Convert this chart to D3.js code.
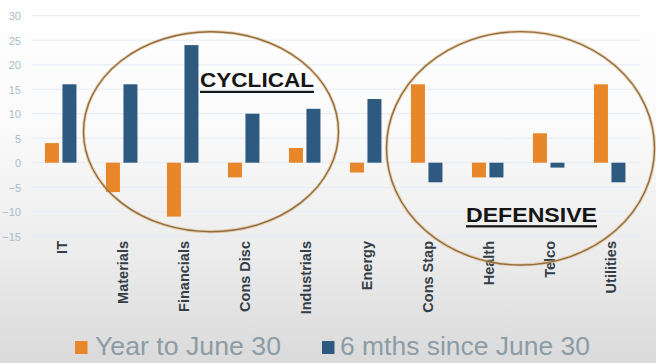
<!DOCTYPE html>
<html>
<head>
<meta charset="utf-8">
<script src="https://cdn.jsdelivr.net/npm/d3@7"></script>
<style>
html,body{margin:0;padding:0;background:#fff;}
svg{display:block;}
</style>
</head>
<body>
<svg id="chart" width="656" height="363"></svg>
<script>
const categories = ["IT","Materials","Financials","Cons Disc","Industrials","Energy","Cons Stap","Health","Telco","Utilities"];
const seriesNames = ["Year to June 30","6 mths since June 30"];
const yearToJune = [4,-6,-11,-3,3,-2,16,-3,6,16];
const sinceJune = [16,16,24,10,11,13,-4,-3,-1,-4];
const yTicks = [-15,-10,-5,0,5,10,15,20,25,30];
const groupLabels = ["CYCLICAL","DEFENSIVE"];
const colors = ["#e8862a","#2f5a80"];

const W = 656, H = 363;
const svg = d3.select("#chart");

// background gradient
const defs = svg.append("defs");
const grad = defs.append("linearGradient").attr("id","bg").attr("x1",0).attr("y1",0).attr("x2",0).attr("y2",1);
grad.append("stop").attr("offset","0%").attr("stop-color","#ffffff");
grad.append("stop").attr("offset","35%").attr("stop-color","#fafafa");
grad.append("stop").attr("offset","70%").attr("stop-color","#ececec");
grad.append("stop").attr("offset","100%").attr("stop-color","#dadada");
svg.append("rect").attr("width",W).attr("height",H).attr("fill","url(#bg)");

const x0 = d3.scaleBand().domain(categories).range([31, 641]).paddingInner(0).paddingOuter(0);
const x1 = d3.scaleBand().domain(seriesNames).range([0, 31.5]).paddingInner(0.2);
const y = d3.scaleLinear().domain([-15, 30]).range([236.2, 15.7]);

// gridlines
svg.append("g").selectAll("line").data(yTicks).join("line")
  .attr("x1",32).attr("x2",640)
  .attr("y1",d=>y(d)).attr("y2",d=>y(d))
  .attr("stroke","#e4ecf3").attr("stroke-width",1);

// y axis labels
const yAxis = d3.axisLeft(y).tickValues(yTicks).tickSize(0).tickPadding(0);
const yg = svg.append("g").attr("transform","translate(21,0)").call(yAxis);
yg.select(".domain").remove();
yg.selectAll("text").attr("font-family","Liberation Sans, Arial, sans-serif")
  .attr("font-size",11).attr("fill","#a5bccd").attr("dy","0.35em");

// bars
const data = categories.map((c,i)=>({cat:c, vals:[yearToJune[i], sinceJune[i]]}));
const off = (x0.bandwidth() - 31.5)/2 - 0.8;
const groups = svg.append("g").selectAll("g").data(data).join("g")
  .attr("transform", d=>`translate(${x0(d.cat)+off},0)`);
groups.selectAll("rect").data(d=>d.vals.map((v,j)=>({v, s:seriesNames[j], j})))
  .join("rect")
  .attr("x", d=>x1(d.s))
  .attr("width", x1.bandwidth())
  .attr("y", d=>y(Math.max(0,d.v)))
  .attr("height", d=>Math.abs(y(d.v)-y(0)))
  .attr("fill", d=>colors[d.j]);

// category labels
const xAxis = d3.axisBottom(x0).tickSize(0).tickPadding(0);
const xg = svg.append("g").attr("transform","translate(0,241)").call(xAxis);
xg.select(".domain").remove();
xg.selectAll("text")
  .attr("transform","rotate(-90)")
  .attr("text-anchor","end")
  .attr("x",0).attr("y",0).attr("dy","0.36em")
  .attr("font-family","Liberation Sans, Arial, sans-serif")
  .attr("font-weight","bold")
  .attr("font-size",14.5)
  .attr("fill","#333e47");

// ellipses
svg.append("ellipse").attr("cx",211).attr("cy",131.7).attr("rx",127.5).attr("ry",100)
  .attr("fill","none").attr("stroke","#e0a866").attr("stroke-width",3.2).attr("opacity",0.5);
svg.append("ellipse").attr("cx",211).attr("cy",131.7).attr("rx",127.5).attr("ry",100)
  .attr("fill","none").attr("stroke","#8e6e42").attr("stroke-width",1.4);
svg.append("ellipse").attr("cx",520.5).attr("cy",148.3).attr("rx",134).attr("ry",116.7)
  .attr("fill","none").attr("stroke","#e0a866").attr("stroke-width",3.2).attr("opacity",0.5);
svg.append("ellipse").attr("cx",520.5).attr("cy",148.3).attr("rx",134).attr("ry",116.7)
  .attr("fill","none").attr("stroke","#8e6e42").attr("stroke-width",1.4);

// group labels
const gl = [{t:groupLabels[0], x:200, y:87.3, w:114},{t:groupLabels[1], x:466, y:221.7, w:131}];
gl.forEach(g=>{
  svg.append("text").attr("x",g.x).attr("y",g.y).text(g.t)
    .attr("font-family","Liberation Sans, Arial, sans-serif").attr("font-weight","bold")
    .attr("font-size",21).attr("fill","#151515")
    .attr("textLength",g.w).attr("lengthAdjust","spacingAndGlyphs");
  svg.append("rect").attr("x",g.x).attr("y",g.y+3.5).attr("width",g.w).attr("height",2.2).attr("fill","#151515");
});

// legend
const legend = [{x:75, tx:95, tw:186}, {x:322, tx:340, tw:250}];
legend.forEach((l,i)=>{
  svg.append("rect").attr("x",l.x).attr("y",341).attr("width",12.5).attr("height",13).attr("fill",colors[i]);
  svg.append("text").attr("x",l.tx).attr("y",355).text(seriesNames[i])
    .attr("font-family","Liberation Sans, Arial, sans-serif").attr("font-size",26)
    .attr("fill","#8c9ca6").attr("textLength",l.tw).attr("lengthAdjust","spacingAndGlyphs");
});
</script>
</body>
</html>
